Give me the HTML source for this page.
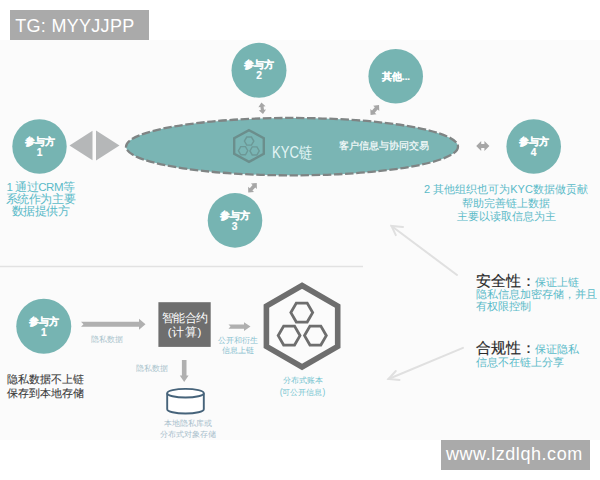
<!DOCTYPE html>
<html><head><meta charset="utf-8">
<style>
html,body{margin:0;padding:0;}
body{width:600px;height:480px;position:relative;overflow:hidden;background:#fff;font-family:"Liberation Sans",sans-serif;}
.bg{position:absolute;left:0;top:40px;width:600px;height:400px;background:#fbfbfb;}
.tag{position:absolute;background:#aaaaaa;color:#fff;font-size:18px;line-height:30px;white-space:nowrap;}
svg{position:absolute;left:0;top:0;}
.t{position:absolute;white-space:nowrap;line-height:1;}
.c{text-align:center;}
.pw{color:#fff;font-weight:bold;font-size:9.6px;text-align:center;line-height:11px;-webkit-text-stroke:0.2px #fff;}
.pw b{font-size:10.2px;}
.teal{color:#5abac8;font-size:11px;}
.serif{font-family:"Liberation Serif",serif;}
</style></head><body>
<div class="bg"></div>
<div class="tag" style="left:10px;top:10px;width:139px;height:30px;"><span style="position:absolute;left:5.2px;top:1px;letter-spacing:0.3px;">TG: MYYJJPP</span></div>
<div class="tag" style="left:441px;top:440px;width:149px;height:30px;"><span style="position:absolute;left:5px;top:-0.8px;letter-spacing:0.55px;">www.lzdlqh.com</span></div>

<svg width="600" height="480" viewBox="0 0 600 480">
  <!-- divider -->
  <line x1="0" y1="266.5" x2="363" y2="266.5" stroke="#e2e2e2" stroke-width="1.5"/>
  <!-- ellipse -->
  <ellipse cx="292" cy="146.65" rx="166" ry="28.7" fill="#7ab5b4" stroke="#7f8484" stroke-width="2.3" stroke-dasharray="8.5 2.6"/>
  <!-- participant circles -->
  <circle cx="39.5" cy="146.5" r="27.2" fill="#76b4b2"/>
  <circle cx="259" cy="70.3" r="27.5" fill="#76b4b2"/>
  <circle cx="395.7" cy="76.2" r="27.3" fill="#76b4b2"/>
  <circle cx="235" cy="220.4" r="27.3" fill="#76b4b2"/>
  <circle cx="533.7" cy="146.5" r="27.3" fill="#76b4b2"/>
  <circle cx="43.75" cy="326.25" r="27.5" fill="#76b4b2"/>
  <!-- triangles -->
  <polygon points="69.5,145.5 92.5,130.8 92.5,160.3" fill="#b5b7b8"/>
  <polygon points="96,130.5 96,160.5 119.5,145.5" fill="#b5b7b8"/>
  <!-- kyc hex icon -->
  <g fill="none">
    <polygon points="249,130.2 263.8,138.1 263.8,153.9 249,161.9 234.2,153.9 234.2,138.1" stroke="#6b8e8c" stroke-width="2.4"/>
    <polygon points="253.80,141.10 251.45,145.17 246.75,145.17 244.40,141.10 246.75,137.03 251.45,137.03" stroke="#6c9896" stroke-width="1.4"/>
    <polygon points="247.80,150.70 245.45,154.77 240.75,154.77 238.40,150.70 240.75,146.63 245.45,146.63" stroke="#6c9896" stroke-width="1.4"/>
    <polygon points="259.30,150.90 256.95,154.97 252.25,154.97 249.90,150.90 252.25,146.83 256.95,146.83" stroke="#6c9896" stroke-width="1.4"/>
  </g>
  <!-- small double arrows -->
  <g fill="#a6a6a6">
    <g transform="translate(262.2,108.3) rotate(-8)">
      <polygon points="0,-5.8 3.6,-1.6 1.6,-1.6 1.6,1.6 3.6,1.6 0,5.8 -3.6,1.6 -1.6,1.6 -1.6,-1.6 -3.6,-1.6"/>
    </g>
    <g transform="translate(374.8,110) rotate(40)">
      <polygon points="0,-6.6 4,-2.2 1.8,-2.2 1.8,2.2 4,2.2 0,6.6 -4,2.2 -1.8,2.2 -1.8,-2.2 -4,-2.2"/>
    </g>
    <g transform="translate(252.5,187.8) rotate(42)">
      <polygon points="0,-6.4 4,-2.1 1.8,-2.1 1.8,2.1 4,2.1 0,6.4 -4,2.1 -1.8,2.1 -1.8,-2.1 -4,-2.1"/>
    </g>
    <g transform="translate(482.8,146) rotate(90)">
      <polygon points="0,-6.6 5,-1.6 2,-1.6 2,1.6 5,1.6 0,6.6 -5,1.6 -2,1.6 -2,-1.6 -5,-1.6"/>
    </g>
  </g>
  <!-- bottom arrows -->
  <g fill="#b0b0b0">
    <polygon points="81,321.8 139,321.8 139,318.8 145.5,324.3 139,329.8 139,326.8 81,326.8 83.5,324.3"/>
    <polygon points="228.5,324.4 244,324.4 244,322.3 250.5,326.6 244,330.9 244,328.8 228.5,328.8 230.5,326.6"/>
    <polygon points="181.9,360 186.5,360 186.5,375.5 188.6,375.5 184.2,382 179.8,375.5 181.9,375.5"/>
  </g>
  <!-- cylinder -->
  <g stroke="#46637a" stroke-width="1.9" fill="#fff">
    <path d="M167.2,393.2 L167.2,409.2 A18.3,4.3 0 0 0 203.8,409.2 L203.8,393.2"/>
    <ellipse cx="185.5" cy="393.2" rx="18.3" ry="4.3"/>
  </g>
  <!-- big hexagon -->
  <g stroke="#6e6e6e" fill="none">
    <polygon points="302.05,285.5 337.7,306.1 337.7,346.4 302.05,367 266.4,346.4 266.4,306.1" stroke-width="5.6"/>
    <polygon points="312.65,312.60 307.20,322.04 296.30,322.04 290.85,312.60 296.30,303.16 307.20,303.16" stroke-width="2.8"/>
    <polygon points="300.00,335.60 294.55,345.04 283.65,345.04 278.20,335.60 283.65,326.16 294.55,326.16" stroke-width="2.8"/>
    <polygon points="326.30,335.60 320.85,345.04 309.95,345.04 304.50,335.60 309.95,326.16 320.85,326.16" stroke-width="2.8"/>
  </g>
  <!-- light arrows -->
  <g stroke="#e0e0e0" stroke-width="2" fill="none" stroke-linecap="round">
    <line x1="457" y1="275" x2="391.5" y2="226"/>
    <polyline points="403,227 391.5,226 395.8,235.2"/>
    <line x1="463" y1="347.8" x2="388.5" y2="379"/>
    <polyline points="395.8,371 388.5,379 399.5,380"/>
  </g>
  <!-- dark box -->
  <rect x="158.4" y="302.2" width="52.3" height="44.7" fill="#6e6e6e"/>
</svg>

<!-- participant labels -->
<div class="t pw" style="left:9.5px;top:135.5px;width:60px;">参与方<br><b>1</b></div>
<div class="t pw" style="left:229px;top:58.5px;width:60px;">参与方<br><b>2</b></div>
<div class="t pw" style="left:366px;top:71px;width:60px;">其他...</div>
<div class="t pw" style="left:204.5px;top:209.7px;width:60px;">参与方<br><b>3</b></div>
<div class="t pw" style="left:503.5px;top:136.2px;width:60px;">参与方<br><b>4</b></div>
<div class="t pw" style="left:13.75px;top:315.8px;width:60px;">参与方<br><b>1</b></div>

<!-- KYC -->
<div class="t" style="left:271.5px;top:145px;font-size:16px;color:#e4f6f6;transform:scaleX(0.82);transform-origin:0 0;">KYC链</div>
<div class="t serif" style="left:338.5px;top:140.5px;font-size:10px;color:#f8fcfc;-webkit-text-stroke:0.2px #f8fcfc;">客户信息与协同交易</div>

<div class="t teal c" style="left:0px;top:180.5px;width:81px;line-height:12.4px;font-size:11.5px;letter-spacing:-0.45px;">1 通过CRM等<br>系统作为主要<br>数据提供方</div>
<div class="t teal c" style="left:406px;top:183px;width:200px;line-height:13.5px;">2 其他组织也可为KYC数据做贡献<br>帮助完善链上数据<br>主要以读取信息为主</div>

<!-- bottom -->
<div class="t" style="left:7px;top:373.3px;font-size:11px;line-height:13.7px;color:#3a3a3a;-webkit-text-stroke:0.1px #3a3a3a;">隐私数据不上链<br>保存到本地存储</div>
<div class="t serif" style="left:91px;top:335.5px;font-size:8px;color:#a9c3cc;">隐私数据</div>
<div class="t serif" style="left:136px;top:364.7px;font-size:8.3px;color:#a9c3cc;">隐私数据</div>
<div class="t" style="left:158.4px;top:312px;width:52.3px;text-align:center;font-size:11.5px;line-height:13.5px;color:#fff;letter-spacing:-0.6px;">智能合约<br><span style="letter-spacing:0.6px;margin-left:0.6px">(计算)</span></div>
<div class="t serif c" style="left:208px;top:335.8px;width:60px;font-size:8px;line-height:10px;color:#86c0cf;">公开和衍生<br>信息上链</div>
<div class="t serif c" style="left:157.5px;top:419px;width:60px;font-size:8px;line-height:10.5px;color:#a9c0cc;">本地隐私库或<br>分布式对象存储</div>
<div class="t c" style="left:271.5px;top:375.3px;width:62px;font-size:8.4px;line-height:11.5px;color:#74c4d0;">分布式账本<br>(可公开信息)</div>

<!-- right -->
<div class="t" style="left:476px;top:273.5px;font-size:14.5px;color:#2a2a2a;-webkit-text-stroke:0.15px #2a2a2a;">安全性：<span style="font-size:11px;color:#5abac8;margin-left:-1.2px;-webkit-text-stroke:0;">保证上链</span></div>
<div class="t" style="left:476px;top:288px;font-size:11px;line-height:12.4px;color:#5abac8;">隐私信息加密存储，并且<br>有权限控制</div>
<div class="t" style="left:476px;top:341px;font-size:14.5px;color:#2a2a2a;-webkit-text-stroke:0.15px #2a2a2a;">合规性：<span style="font-size:11px;color:#5abac8;margin-left:-1.2px;-webkit-text-stroke:0;">保证隐私</span></div>
<div class="t" style="left:476px;top:356.5px;font-size:11px;color:#5abac8;">信息不在链上分享</div>
</body></html>
